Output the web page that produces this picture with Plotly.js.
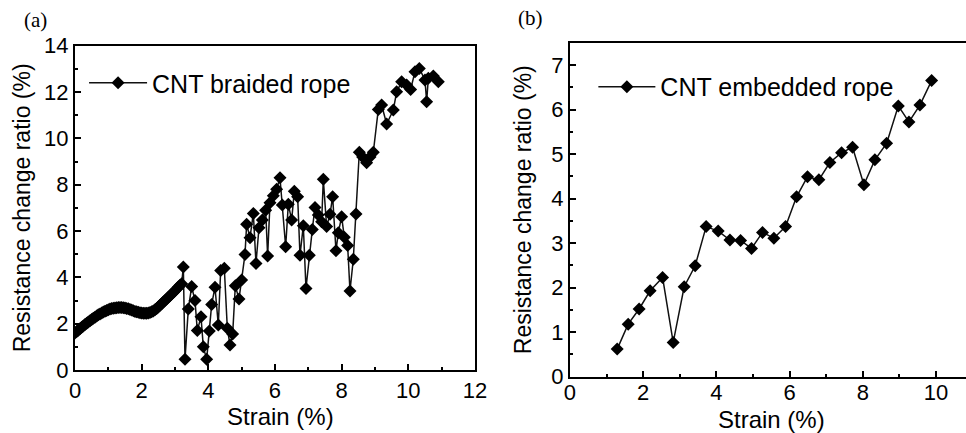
<!DOCTYPE html>
<html>
<head>
<meta charset="utf-8">
<script src="https://cdn.plot.ly/plotly-3.0.1.min.js"></script>
<style>
  html, body { margin: 0; padding: 0; overflow: hidden; background: #fff; }
  #chart { width: 1000px; height: 433px; }
</style>
</head>
<body>
<div id="chart"></div>
<script>
// Panel (a): CNT braided rope
const strainA = [
  0.00,0.05,0.10,0.15,0.20,0.25,0.30,0.35,0.40,0.45,0.50,0.55,0.60,0.65,0.70,0.75,0.80,0.85,0.90,0.95,
  1.00,1.05,1.10,1.15,1.20,1.25,1.30,1.35,1.40,1.45,1.50,1.55,1.60,1.65,1.70,1.75,1.80,1.85,1.90,1.95,
  2.00,2.05,2.10,2.15,2.20,2.25,2.30,2.35,2.40,2.45,2.50,2.55,2.60,2.65,2.70,2.75,2.80,2.85,2.90,2.95,
  3.00,3.05,3.10,3.15,3.20,
  3.25,3.30,3.40,3.50,3.60,3.67,3.78,3.85,3.95,4.03,4.10,4.20,4.30,4.37,4.48,4.57,4.65,4.73,4.81,4.92,
  5.00,5.10,5.15,5.25,5.35,5.43,5.52,5.62,5.72,5.78,5.85,5.95,6.05,6.15,6.22,6.32,6.40,6.50,6.58,6.68,
  6.75,6.85,6.93,7.03,7.12,7.20,7.30,7.40,7.45,7.55,7.65,7.73,7.83,7.90,8.00,8.08,8.18,8.25,8.35,8.43,
  8.53,8.63,8.75,8.85,8.95,9.10,9.20,9.35,9.55,9.65,9.80,9.95,10.07,10.20,10.33,10.50,10.55,10.60,10.75,10.90
];
const resistA = [
  1.60,1.66,1.72,1.78,1.84,1.90,1.96,2.02,2.07,2.13,2.18,2.23,2.28,2.33,2.38,2.42,2.46,2.50,2.54,2.57,
  2.60,2.63,2.65,2.67,2.68,2.69,2.70,2.70,2.70,2.69,2.68,2.66,2.64,2.61,2.59,2.56,2.53,2.51,2.49,2.47,
  2.46,2.45,2.45,2.45,2.46,2.48,2.51,2.55,2.60,2.66,2.72,2.79,2.86,2.93,3.00,3.07,3.14,3.21,3.28,3.35,
  3.42,3.50,3.58,3.66,3.72,
  4.45,0.46,2.63,3.60,3.00,1.70,2.30,1.00,0.46,1.68,2.83,3.57,1.94,4.29,4.39,1.80,1.08,1.55,3.64,3.06,
  3.88,4.99,6.29,5.71,6.76,4.60,6.14,6.47,6.90,4.92,7.22,7.52,7.80,8.30,7.12,5.32,7.16,6.47,7.72,7.48,
  4.95,6.23,3.52,4.95,6.07,7.02,6.69,6.40,8.23,6.19,6.72,7.48,5.15,5.93,6.62,5.73,5.37,3.41,4.78,6.73,
  9.40,9.20,8.95,9.20,9.40,11.25,11.44,10.62,11.22,12.01,12.44,12.30,12.11,12.88,13.02,12.52,11.58,12.59,12.69,12.44
];

// Panel (b): CNT embedded rope
const strainB = [1.29,1.59,1.89,2.19,2.53,2.82,3.12,3.42,3.72,4.05,4.37,4.66,4.96,5.26,5.57,5.89,6.19,6.49,6.80,7.10,7.42,7.72,8.03,8.33,8.65,8.97,9.26,9.56,9.88];
const resistB = [0.62,1.18,1.52,1.93,2.23,0.77,2.02,2.49,3.37,3.27,3.07,3.06,2.88,3.24,3.11,3.37,4.04,4.49,4.42,4.81,5.03,5.15,4.31,4.87,5.24,6.08,5.72,6.10,6.65];

const seriesNames = ['CNT braided rope', 'CNT embedded rope'];
const panelLabels = ['(a)', '(b)'];
const xTitle = 'Strain (%)';
const yTitle = 'Resistance change ratio (%)';

const sans = 'Arial, "Liberation Sans", sans-serif';
const serif = '"Liberation Serif", "Times New Roman", serif';
const tickFont = {family: sans, size: 22, color: '#000'};
const titleFont = {family: sans, size: 23, color: '#000'};
const xTitleFont = {family: sans, size: 24, color: '#000'};
const legendFont = {family: sans, size: 25, color: '#000'};

function axisBase(extra) {
  return Object.assign({
    showline: true, linecolor: '#000', linewidth: 2, mirror: true,
    ticks: 'inside', ticklen: 6, tickwidth: 2, tickcolor: '#000',
    showgrid: false, zeroline: false, tickfont: tickFont,
    automargin: false
  }, extra);
}

const traces = [
  {
    x: strainA, y: resistA, xaxis: 'x', yaxis: 'y',
    type: 'scatter', mode: 'lines+markers', name: seriesNames[0],
    line: {color: '#111', width: 1.5},
    marker: {symbol: 'diamond', size: 10, color: '#000'},
    legend: 'legend'
  },
  {
    x: strainB, y: resistB, xaxis: 'x2', yaxis: 'y2',
    type: 'scatter', mode: 'lines+markers', name: seriesNames[1],
    line: {color: '#111', width: 1.5},
    marker: {symbol: 'diamond', size: 10, color: '#000'},
    legend: 'legend2'
  }
];

const layout = {
  width: 1000, height: 433,
  margin: {l: 75, r: 0, t: 40, b: 50},
  paper_bgcolor: '#fff', plot_bgcolor: '#fff',
  showlegend: true,
  xaxis: axisBase({
    domain: [0, 0.4324], range: [0, 12], dtick: 2, anchor: 'y',
    minor: {ticks: 'inside', ticklen: 3, tickwidth: 2, tickcolor: '#000', dtick: 1, showgrid: false}
  }),
  yaxis: axisBase({
    domain: [0.0379, 0.9834], range: [0, 14], dtick: 2, anchor: 'x',
    minor: {ticks: 'inside', ticklen: 3, tickwidth: 2, tickcolor: '#000', dtick: 1, showgrid: false},
    title: {text: yTitle, font: titleFont, standoff: 7}
  }),
  xaxis2: axisBase({
    domain: [0.5351, 0.9704], range: [0, 11], dtick: 2, anchor: 'y2',
    ticklabelstandoff: -5,
    minor: {ticks: 'inside', ticklen: 3, tickwidth: 2, tickcolor: '#000', dtick: 1, showgrid: false}
  }),
  yaxis2: axisBase({
    domain: [0.0184, 0.9921], range: [0, 7.5], dtick: 1, anchor: 'x2',
    minor: {ticks: 'inside', ticklen: 3, tickwidth: 2, tickcolor: '#000', dtick: 0.5, showgrid: false},
    title: {text: yTitle, font: titleFont, standoff: 13}
  }),
  legend: {
    x: 0.0098, y: 0.8746, xanchor: 'left', yanchor: 'middle',
    bgcolor: 'rgba(0,0,0,0)', borderwidth: 0, itemwidth: 58,
    font: legendFont
  },
  legend2: {
    x: 0.5604, y: 0.863, xanchor: 'left', yanchor: 'middle',
    bgcolor: 'rgba(0,0,0,0)', borderwidth: 0, itemwidth: 57,
    font: legendFont
  },
  annotations: [
    {text: xTitle, xref: 'paper', yref: 'paper', x: 0.2227, y: -0.0991, xanchor: 'center', yanchor: 'middle',
     showarrow: false, font: xTitleFont},
    {text: xTitle, xref: 'paper', yref: 'paper', x: 0.7535, y: -0.105, xanchor: 'center', yanchor: 'middle',
     showarrow: false, font: xTitleFont},
    {text: panelLabels[0], xref: 'paper', yref: 'paper', x: -0.043, y: 1.058, xanchor: 'center', yanchor: 'middle',
     showarrow: false, font: {family: serif, size: 21, color: '#000'}},
    {text: panelLabels[1], xref: 'paper', yref: 'paper', x: 0.492, y: 1.063, xanchor: 'center', yanchor: 'middle',
     showarrow: false, font: {family: serif, size: 21, color: '#000'}}
  ]
};

Plotly.newPlot('chart', traces, layout, {displayModeBar: false, responsive: false});
</script>
</body>
</html>
